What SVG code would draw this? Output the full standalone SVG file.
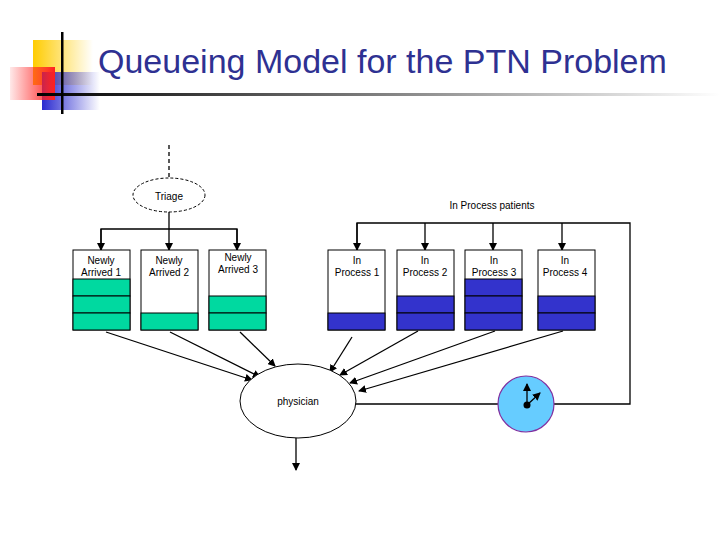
<svg xmlns="http://www.w3.org/2000/svg" width="720" height="540" viewBox="0 0 720 540">
<style>
.bx{fill:#fff;stroke:#000;stroke-width:1}
.g{fill:#00d9a0;stroke:#000;stroke-width:1}
.b{fill:#3333cc;stroke:#000;stroke-width:1}
.t{font-family:"Liberation Sans",Arial,sans-serif;font-size:10px;text-anchor:middle;fill:#000}
.c{stroke:#000;stroke-width:1.3;fill:none}
</style>
<defs>
<marker id="a" markerWidth="8" markerHeight="8" refX="7" refY="4" orient="auto" markerUnits="userSpaceOnUse"><path d="M0,0L8,4L0,8z" fill="#000"/></marker>
<linearGradient id="ry" x1="0" x2="1"><stop offset="0" stop-color="#ffcc00"/><stop offset="1" stop-color="#ffcc00" stop-opacity="0"/></linearGradient>
<linearGradient id="rr" x1="1" x2="0"><stop offset="0" stop-color="#ff2020"/><stop offset="1" stop-color="#ff2020" stop-opacity="0.1"/></linearGradient>
<linearGradient id="rb" x1="0" x2="1"><stop offset="0" stop-color="#2a2ad0"/><stop offset="1" stop-color="#2a2ad0" stop-opacity="0"/></linearGradient>
<linearGradient id="hl" x1="0" x2="1"><stop offset="0" stop-color="#000"/><stop offset="1" stop-color="#fff"/></linearGradient>
</defs>
<g id="logo">
<rect x="33" y="40" width="60" height="45" fill="url(#ry)"/>
<rect x="42" y="72" width="58" height="38" fill="url(#rb)"/>
<rect x="10" y="67" width="45" height="33" fill="url(#rr)"/>
<rect x="37" y="93" width="683" height="3" fill="url(#hl)"/>
<rect x="61" y="32" width="2.5" height="82" fill="#000"/>
</g>
<text x="98" y="73" font-family="Liberation Sans,Arial,sans-serif" font-size="34" fill="#2e3192">Queueing Model for the PTN Problem</text>
<g id="connectors">
<path class="c" d="M169,145V187" stroke-dasharray="4,3" marker-end="url(#a)"/>
<path class="c" d="M169,212V250" marker-end="url(#a)"/>
<path class="c" d="M101,250V229H237V250" />
<path class="c" d="M101,229V250" marker-end="url(#a)"/>
<path class="c" d="M237,229V250" marker-end="url(#a)"/>
<path class="c" d="M357,250V223H630V404H554"/>
<path class="c" d="M357,223V250" marker-end="url(#a)"/>
<path class="c" d="M425,223V250" marker-end="url(#a)"/>
<path class="c" d="M493,223V250" marker-end="url(#a)"/>
<path class="c" d="M562,223V250" marker-end="url(#a)"/>
<path class="c" d="M498,404H356"/>
<path class="c" d="M106,332L252,380" marker-end="url(#a)"/>
<path class="c" d="M170,332L260,377" marker-end="url(#a)"/>
<path class="c" d="M240,332L275,366" marker-end="url(#a)"/>
<path class="c" d="M352,337L330,372" marker-end="url(#a)"/>
<path class="c" d="M418,331L340,375" marker-end="url(#a)"/>
<path class="c" d="M495,331L350,383" marker-end="url(#a)"/>
<path class="c" d="M563,331L359,391" marker-end="url(#a)"/>
<path class="c" d="M296,438V470" marker-end="url(#a)"/>
</g>
<g id="triage"><ellipse cx="169" cy="195" rx="36" ry="17" fill="#fff" stroke="#000" stroke-dasharray="3,2"/><text x="169" y="200" class="t" font-size="14">Triage</text></g>
<text x="492" y="209" class="t" font-size="12">In Process patients</text>
<g id="na1"><rect class="bx" x="73" y="250" width="57" height="80"/><rect class="g" x="73" y="279" width="57" height="17"/><rect class="g" x="73" y="296" width="57" height="17"/><rect class="g" x="73" y="313" width="57" height="17"/><text class="t" x="101" y="264">Newly</text><text class="t" x="101" y="276">Arrived 1</text></g>
<g id="na2"><rect class="bx" x="141" y="250" width="57" height="80"/><rect class="g" x="141" y="313" width="57" height="17"/><text class="t" x="169" y="264">Newly</text><text class="t" x="169" y="276">Arrived 2</text></g>
<g id="na3"><rect class="bx" x="209" y="250" width="57" height="80"/><rect class="g" x="209" y="296" width="57" height="17"/><rect class="g" x="209" y="313" width="57" height="17"/><text class="t" x="238" y="261">Newly</text><text class="t" x="238" y="273">Arrived 3</text></g>
<g id="ip1"><rect class="bx" x="328" y="250" width="57" height="80"/><rect class="b" x="328" y="313" width="57" height="17"/><text class="t" x="357" y="264">In</text><text class="t" x="357" y="276">Process 1</text></g>
<g id="ip2"><rect class="bx" x="397" y="250" width="57" height="80"/><rect class="b" x="397" y="296" width="57" height="17"/><rect class="b" x="397" y="313" width="57" height="17"/><text class="t" x="425" y="264">In</text><text class="t" x="425" y="276">Process 2</text></g>
<g id="ip3"><rect class="bx" x="465" y="250" width="57" height="80"/><rect class="b" x="465" y="279" width="57" height="17"/><rect class="b" x="465" y="296" width="57" height="17"/><rect class="b" x="465" y="313" width="57" height="17"/><text class="t" x="494" y="264">In</text><text class="t" x="494" y="276">Process 3</text></g>
<g id="ip4"><rect class="bx" x="538" y="250" width="57" height="80"/><rect class="b" x="538" y="296" width="57" height="17"/><rect class="b" x="538" y="313" width="57" height="17"/><text class="t" x="565" y="264">In</text><text class="t" x="565" y="276">Process 4</text></g>
<g id="physician"><ellipse cx="298" cy="401" rx="58" ry="37" fill="#fff" stroke="#000"/><text class="t" x="298" y="405" font-size="12">physician</text></g>
<g id="clock"><circle cx="526" cy="404" r="28" fill="#66ccff" stroke="#8030a0" stroke-width="1.2"/><path class="c" d="M527,405V384" marker-end="url(#a)"/><path class="c" d="M527,405L540,393" marker-end="url(#a)"/><circle cx="527" cy="405" r="3.5" fill="#000"/></g>
</svg>
